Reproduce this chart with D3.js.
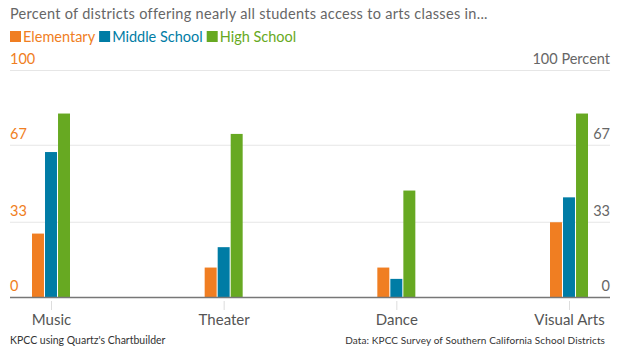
<!DOCTYPE html>
<html>
<head>
<meta charset="utf-8">
<script src="https://cdn.jsdelivr.net/npm/d3@7"></script>
<style>
  body { margin: 0; background: #fff; }
  svg { display: block; font-family: Lato, "Open Sans", sans-serif; }
</style>
</head>
<body>
<div id="chart"></div>
<script>
// Data
const categories = ['Music', 'Theater', 'Dance', 'Visual Arts'];
const seriesNames = ['Elementary', 'Middle School', 'High School'];
const elementary = [28, 13, 13, 33];
const middleSchool = [64, 22, 8, 44];
const highSchool = [81, 72, 47, 81];
const yTicks = [0, 33, 67, 100];
const colours = ['#f07e22', '#007ca5', '#67a922'];

const width = 620, height = 349;

const svg = d3.select('#chart').append('svg')
  .attr('width', width)
  .attr('height', height);

const series = [elementary, middleSchool, highSchool];

const x = d3.scalePoint()
  .domain(categories)
  .range([51, 569]);

const xInner = d3.scaleBand()
  .domain(seriesNames)
  .range([-19, 19])
  .paddingInner(0.08);

const y = d3.scaleLinear()
  .domain([0, 100])
  .range([297, 70.5]);

// Title + legend
svg.append('text')
  .attr('x', 10).attr('y', 19)
  .attr('fill', '#666')
  .style('font-size', '14.5px')
  .style('letter-spacing', '0.3px')
  .text('Percent of districts offering nearly all students access to arts classes in...');

const legend = svg.append('g').attr('transform', 'translate(10,30)');
let lx = 0;
seriesNames.forEach((name, i) => {
  const g = legend.append('g').attr('transform', `translate(${lx},0)`);
  g.append('rect').attr('width', 11).attr('height', 11).attr('y', 1).attr('fill', colours[i]);
  const t = g.append('text')
    .attr('x', 13).attr('y', 11.5)
    .attr('fill', colours[i])
    .style('font-size', '14.5px')
    .text(name);
  lx += 13 + t.node().getComputedTextLength() + 4;
});

// Gridlines
svg.append('g')
  .selectAll('line')
  .data(yTicks.filter(d => d > 0))
  .join('line')
    .attr('x1', 10).attr('x2', 610)
    .attr('y1', d => y(d)).attr('y2', d => y(d))
    .attr('stroke', '#e6e6e6')
    .attr('stroke-width', 1);

// Left axis labels
const yLeft = d3.axisLeft(y).tickValues(yTicks).tickSize(0).tickFormat(d3.format('d'));
svg.append('g')
  .attr('transform', 'translate(10,0)')
  .call(yLeft)
  .call(g => g.select('.domain').remove())
  .call(g => g.selectAll('text')
    .attr('x', 0).attr('dy', '-0.45em')
    .attr('text-anchor', 'start')
    .attr('fill', '#f07e22')
    .style('font-family', 'Lato, "Open Sans", sans-serif')
    .style('font-size', '14.5px'));

// Right axis labels
const yRight = d3.axisRight(y).tickValues(yTicks).tickSize(0)
  .tickFormat(d => d === 100 ? '100 Percent' : d3.format('d')(d));
svg.append('g')
  .attr('transform', 'translate(610,0)')
  .call(yRight)
  .call(g => g.select('.domain').remove())
  .call(g => g.selectAll('text')
    .attr('x', 0).attr('dy', '-0.45em')
    .attr('text-anchor', 'end')
    .attr('fill', '#666')
    .style('font-family', 'Lato, "Open Sans", sans-serif')
    .style('font-size', '14.5px'));

// Bars
const groups = svg.append('g')
  .selectAll('g')
  .data(categories)
  .join('g')
    .attr('transform', d => `translate(${x(d)},0)`);

groups.selectAll('rect')
  .data((d, ci) => seriesNames.map((s, si) => ({ s, si, v: series[si][ci] })))
  .join('rect')
    .attr('x', d => xInner(d.s))
    .attr('width', xInner.bandwidth())
    .attr('y', d => y(d.v))
    .attr('height', d => y(0) - y(d.v))
    .attr('fill', d => colours[d.si]);

// Baseline + x axis
const xAxis = d3.axisBottom(x).tickSize(0);
svg.append('g')
  .attr('transform', `translate(0,${y(0) + 1})`)
  .call(xAxis)
  .call(g => g.select('.domain').remove())
  .call(g => g.selectAll('.tick line').attr('stroke', '#ddd').attr('y1', 3).attr('y2', 12))
  .call(g => g.selectAll('text')
    .attr('y', 27).attr('dy', 0)
    .attr('fill', '#555')
    .style('font-family', 'Lato, "Open Sans", sans-serif')
    .style('font-size', '15px'));

svg.append('line')
  .attr('x1', 10).attr('x2', 610)
  .attr('y1', y(0) + 0.5).attr('y2', y(0) + 0.5)
  .attr('stroke', '#777')
  .attr('stroke-width', 1.5);

// Footer
svg.append('text')
  .attr('x', 10).attr('y', 344)
  .attr('fill', '#333')
  .style('font-size', '10.5px')
  .text("KPCC using Quartz's Chartbuilder");

svg.append('text')
  .attr('x', 605).attr('y', 344)
  .attr('text-anchor', 'end')
  .attr('fill', '#333')
  .style('font-size', '10px')
  .style('letter-spacing', '0.1px')
  .text('Data: KPCC Survey of Southern California School Districts');
</script>
</body>
</html>
